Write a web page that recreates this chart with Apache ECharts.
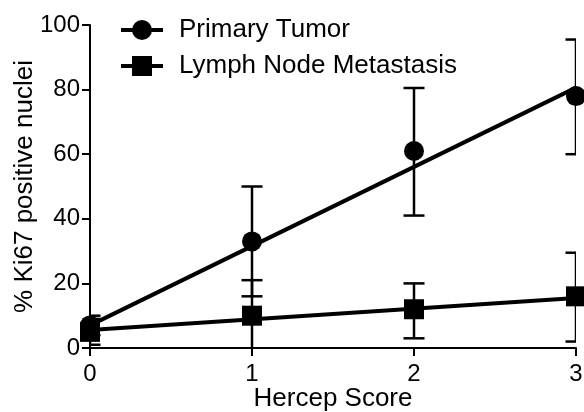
<!DOCTYPE html>
<html>
<head>
<meta charset="utf-8">
<script src="https://cdn.jsdelivr.net/npm/echarts@6/dist/echarts.min.js"></script>
<style>html,body{margin:0;padding:0;background:#fff}#c{width:584px;height:412px}</style>
</head>
<body>
<div id="c"></div>
<script>
const scores = [0, 1, 2, 3];
const xTicks = [0, 1, 2, 3];
const yTicks = [0, 20, 40, 60, 80, 100];
const primaryMean = [7, 33, 61, 78];
const primaryLow = [4, 16, 41, 60];
const primaryHigh = [10, 50, 80.5, 95.5];
const lymphMean = [5, 10, 12, 16];
const lymphLow = [1, -1, 3, 2];
const lymphHigh = [9, 21, 20, 29.5];
const fitX = [0, 3];
const primaryFit = [7, 80.6];
const lymphFit = [5.6, 15.5];

const FONT = 'Liberation Sans, Arial, Helvetica, sans-serif';
const chart = echarts.init(document.getElementById('c'), null, {renderer: 'canvas'});

function errData(low, high) {
  return scores.map((x, i) => [x, low[i], high[i]]);
}
function errRender(params, api) {
  const x = api.value(0);
  const lo = api.coord([x, api.value(1)]);
  const hi = api.coord([x, api.value(2)]);
  const hw = 10.5;
  const st = {stroke: '#000', lineWidth: 2.5};
  return {
    type: 'group',
    children: [
      {type: 'line', shape: {x1: lo[0], y1: lo[1], x2: hi[0], y2: hi[1]}, style: st},
      {type: 'line', shape: {x1: lo[0] - hw, y1: lo[1], x2: lo[0] + hw, y2: lo[1]}, style: st},
      {type: 'line', shape: {x1: hi[0] - hw, y1: hi[1], x2: hi[0] + hw, y2: hi[1]}, style: st}
    ]
  };
}

chart.setOption({
  animation: false,
  backgroundColor: '#fff',
  textStyle: {fontFamily: FONT, color: '#000'},
  grid: {left: 90, right: 8, top: 25, bottom: 64, outerBoundsMode: 'none', containLabel: false},
  legend: {
    orient: 'vertical',
    left: 114,
    top: 12,
    itemWidth: 42,
    itemHeight: 25,
    itemGap: 10,
    textStyle: {fontSize: 26, color: '#000', fontFamily: FONT, padding: [0, 0, 0, 11]},
    lineStyle: {width: 4, color: '#000', opacity: 1},
    data: ['Primary Tumor', 'Lymph Node Metastasis']
  },
  xAxis: {
    type: 'value', min: xTicks[0], max: xTicks[xTicks.length - 1], interval: 1,
    name: 'Hercep Score', nameLocation: 'middle', nameGap: 38, nameMoveOverlap: false,
    nameTextStyle: {fontSize: 26, color: '#000', fontFamily: FONT},
    axisLine: {show: true, lineStyle: {color: '#000', width: 2}},
    axisTick: {show: true, length: 8, lineStyle: {color: '#000', width: 2}},
    axisLabel: {fontSize: 24, color: '#000', margin: 14, fontFamily: FONT},
    splitLine: {show: false}
  },
  yAxis: {
    type: 'value', min: yTicks[0], max: yTicks[yTicks.length - 1], interval: 20,
    name: '% Ki67 positive nuclei', nameLocation: 'middle', nameGap: 52, nameRotate: 90, nameMoveOverlap: false,
    nameTextStyle: {fontSize: 26, color: '#000', fontFamily: FONT},
    axisLine: {show: true, lineStyle: {color: '#000', width: 2}},
    axisTick: {show: true, length: 8, lineStyle: {color: '#000', width: 2}},
    axisLabel: {fontSize: 24, color: '#000', margin: 10, fontFamily: FONT},
    splitLine: {show: false}
  },
  series: [
    {type: 'custom', name: 'errP', renderItem: errRender, data: errData(primaryLow, primaryHigh), clip: true, z: 1, silent: true},
    {type: 'custom', name: 'errL', renderItem: errRender, data: errData(lymphLow, lymphHigh), clip: true, z: 1, silent: true},
    {type: 'line', name: 'fitP', data: fitX.map((x, i) => [x, primaryFit[i]]), showSymbol: false, symbol: 'none',
     lineStyle: {color: '#000', width: 4}, z: 2, clip: true},
    {type: 'line', name: 'fitL', data: fitX.map((x, i) => [x, lymphFit[i]]), showSymbol: false, symbol: 'none',
     lineStyle: {color: '#000', width: 4}, z: 2, clip: true},
    {type: 'line', name: 'Primary Tumor', data: scores.map((x, i) => [x, primaryMean[i]]),
     symbol: 'circle', symbolSize: 20, showAllSymbol: true, itemStyle: {color: '#000'},
     lineStyle: {opacity: 0, color: '#000'}, z: 3, clip: false},
    {type: 'line', name: 'Lymph Node Metastasis', data: scores.map((x, i) => [x, lymphMean[i]]),
     symbol: 'rect', symbolSize: 20, showAllSymbol: true, itemStyle: {color: '#000'},
     lineStyle: {opacity: 0, color: '#000'}, z: 3, clip: false}
  ]
});
</script>
</body>
</html>
